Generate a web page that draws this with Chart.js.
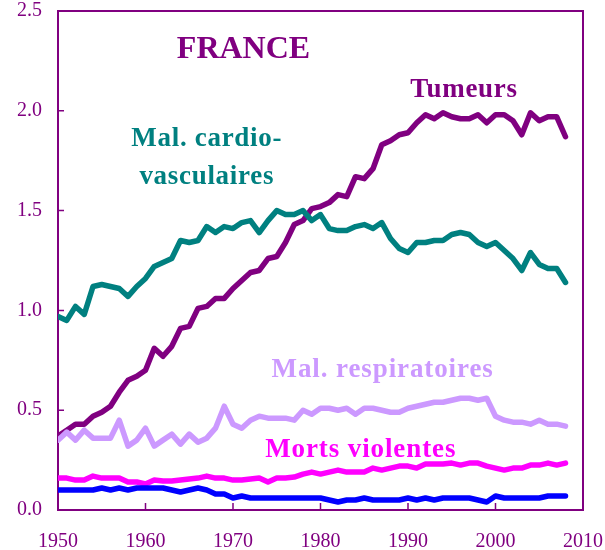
<!DOCTYPE html>
<html>
<head>
<meta charset="utf-8">
<title>France</title>
<script src="https://cdn.jsdelivr.net/npm/chart.js@4.4.1/dist/chart.umd.min.js"></script>
<style>
  html, body { margin: 0; padding: 0; background: #fff; }
  #wrap { width: 605px; height: 550px; }
</style>
</head>
<body>
<div id="wrap"><canvas id="myChart" width="605" height="550"></canvas></div>
<script>
var years = [1950, 1951, 1952, 1953, 1954, 1955, 1956, 1957, 1958, 1959,
    1960, 1961, 1962, 1963, 1964, 1965, 1966, 1967, 1968, 1969,
    1970, 1971, 1972, 1973, 1974, 1975, 1976, 1977, 1978, 1979,
    1980, 1981, 1982, 1983, 1984, 1985, 1986, 1987, 1988, 1989,
    1990, 1991, 1992, 1993, 1994, 1995, 1996, 1997, 1998, 1999,
    2000, 2001, 2002, 2003, 2004, 2005, 2006, 2007, 2008];

var tumeurs = [0.37, 0.40, 0.43, 0.43, 0.47, 0.49, 0.52, 0.59, 0.65, 0.67,
    0.70, 0.81, 0.77, 0.82, 0.91, 0.92, 1.01, 1.02, 1.06, 1.06,
    1.11, 1.15, 1.19, 1.20, 1.26, 1.27, 1.34, 1.43, 1.45, 1.51,
    1.52, 1.54, 1.58, 1.57, 1.67, 1.66, 1.71, 1.83, 1.85, 1.88,
    1.89, 1.94, 1.98, 1.96, 1.99, 1.97, 1.96, 1.96, 1.98, 1.94,
    1.98, 1.98, 1.95, 1.88, 1.99, 1.95, 1.97, 1.97, 1.87];

var cardio = [0.97, 0.95, 1.02, 0.98, 1.12, 1.13, 1.12, 1.11, 1.07, 1.12,
    1.16, 1.22, 1.24, 1.26, 1.35, 1.34, 1.35, 1.42, 1.39, 1.42,
    1.41, 1.44, 1.45, 1.39, 1.45, 1.50, 1.48, 1.48, 1.50, 1.45,
    1.48, 1.41, 1.40, 1.40, 1.42, 1.43, 1.41, 1.44, 1.36, 1.31,
    1.29, 1.34, 1.34, 1.35, 1.35, 1.38, 1.39, 1.38, 1.34, 1.32,
    1.34, 1.30, 1.26, 1.20, 1.29, 1.23, 1.21, 1.21, 1.14];

var respiratoires = [0.35, 0.39, 0.35, 0.40, 0.36, 0.36, 0.36, 0.45, 0.32, 0.35,
    0.41, 0.32, 0.35, 0.38, 0.33, 0.38, 0.34, 0.36, 0.41, 0.52,
    0.43, 0.41, 0.45, 0.47, 0.46, 0.46, 0.46, 0.45, 0.50, 0.48,
    0.51, 0.51, 0.50, 0.51, 0.48, 0.51, 0.51, 0.50, 0.49, 0.49,
    0.51, 0.52, 0.53, 0.54, 0.54, 0.55, 0.56, 0.56, 0.55, 0.56,
    0.47, 0.45, 0.44, 0.44, 0.43, 0.45, 0.43, 0.43, 0.42];

var mortsViolentes = [0.16, 0.16, 0.15, 0.15, 0.17, 0.16, 0.16, 0.16, 0.14, 0.14,
    0.13, 0.15, 0.145, 0.145, 0.15, 0.155, 0.16, 0.17, 0.16, 0.16,
    0.15, 0.15, 0.155, 0.16, 0.14, 0.16, 0.16, 0.165, 0.18, 0.19,
    0.18, 0.19, 0.20, 0.19, 0.19, 0.19, 0.21, 0.20, 0.21, 0.22,
    0.22, 0.21, 0.23, 0.23, 0.23, 0.235, 0.225, 0.235, 0.235, 0.22,
    0.21, 0.20, 0.21, 0.21, 0.225, 0.225, 0.235, 0.225, 0.235];

var autres = [0.10, 0.10, 0.10, 0.10, 0.10, 0.11, 0.10, 0.11, 0.10, 0.11,
    0.11, 0.11, 0.11, 0.10, 0.09, 0.10, 0.11, 0.10, 0.08, 0.08,
    0.06, 0.07, 0.06, 0.06, 0.06, 0.06, 0.06, 0.06, 0.06, 0.06,
    0.06, 0.05, 0.04, 0.05, 0.05, 0.06, 0.05, 0.05, 0.05, 0.05,
    0.06, 0.05, 0.06, 0.05, 0.06, 0.06, 0.06, 0.06, 0.05, 0.04,
    0.07, 0.06, 0.06, 0.06, 0.06, 0.06, 0.07, 0.07, 0.07];

var xTicks = [1950, 1960, 1970, 1980, 1990, 2000, 2010];
var yTicks = [0, 0.5, 1.0, 1.5, 2.0, 2.5];

var purple = '#800080';
var serif = '"Liberation Serif", "Times New Roman", serif';

// text labels placed in data coordinates: [text, year, value, colour, size, spacing]
var labels = [
    ['FRANCE', 1971.2, 2.265, purple, 32, 0],
    ['Tumeurs', 1996.4, 2.07, purple, 27, 0.7],
    ['Mal. cardio-', 1967.0, 1.824, '#008080', 27, 0.7],
    ['vasculaires', 1967.0, 1.633, '#008080', 27, 0.7],
    ['Mal. respiratoires', 1987.1, 0.666, '#CC99FF', 27, 0.9],
    ['Morts violentes', 1984.6, 0.266, '#FF00FF', 27, 0.9]
];

function toPoints(values) {
    return values.map(function (v, i) { return { x: years[i], y: v }; });
}

function line(data, color) {
    return {
        data: toPoints(data),
        borderColor: color,
        backgroundColor: color,
        borderWidth: 5.5,
        pointRadius: 0,
        tension: 0,
        borderJoinStyle: 'round',
        borderCapStyle: 'round'
    };
}

// frame, inward tick marks and the text labels
const decorations = {
    id: 'decorations',
    beforeDatasetsDraw(chart) {
        const ctx = chart.ctx;
        const area = chart.chartArea;
        const xs = chart.scales.x;
        const ys = chart.scales.y;
        ctx.save();
        ctx.strokeStyle = purple;
        ctx.lineWidth = 2;
        ctx.strokeRect(area.left, area.top, area.right - area.left, area.bottom - area.top);
        ctx.lineWidth = 1.5;
        ctx.beginPath();
        xTicks.forEach(function (t) {
            const px = xs.getPixelForValue(t);
            ctx.moveTo(px, area.bottom);
            ctx.lineTo(px, area.bottom - 7);
        });
        yTicks.forEach(function (t) {
            const py = ys.getPixelForValue(t);
            ctx.moveTo(area.left, py);
            ctx.lineTo(area.left + 6, py);
        });
        ctx.stroke();
        ctx.restore();
    },
    afterDatasetsDraw(chart) {
        const ctx = chart.ctx;
        const xs = chart.scales.x;
        const ys = chart.scales.y;
        ctx.save();
        ctx.textAlign = 'center';
        ctx.textBaseline = 'alphabetic';
        labels.forEach(function (l) {
            ctx.font = 'bold ' + l[4] + 'px ' + serif;
            ctx.letterSpacing = l[5] + 'px';
            ctx.fillStyle = l[3];
            ctx.fillText(l[0], xs.getPixelForValue(l[1]), ys.getPixelForValue(l[2]));
        });
        ctx.restore();
    }
};

const ctx = document.getElementById('myChart');
const myChart = new Chart(ctx, {
    type: 'line',
    data: {
        datasets: [
            line(autres, '#0000FF'),
            line(mortsViolentes, '#FF00FF'),
            line(respiratoires, '#CC99FF'),
            line(cardio, '#008080'),
            line(tumeurs, purple)
        ]
    },
    options: {
        responsive: false,
        animation: false,
        layout: { padding: { top: 11, right: 22, left: 0, bottom: 0 } },
        plugins: {
            legend: { display: false },
            tooltip: { enabled: false }
        },
        scales: {
            x: {
                type: 'linear',
                min: 1950,
                max: 2010,
                afterFit: function (scale) {
                    scale.height = 40;
                    scale.paddingLeft = 0;
                    scale.paddingRight = 0;
                },
                afterBuildTicks: function (scale) {
                    scale.ticks = xTicks.map(function (v) { return { value: v }; });
                },
                grid: { display: false, drawTicks: false },
                border: { display: false },
                ticks: {
                    color: purple,
                    padding: 20,
                    maxRotation: 0,
                    autoSkip: false,
                    font: { family: serif, size: 20 },
                    callback: function (v) { return String(v); }
                }
            },
            y: {
                min: 0,
                max: 2.5,
                afterFit: function (scale) {
                    scale.width = 58;
                    scale.paddingTop = 0;
                    scale.paddingBottom = 0;
                },
                afterBuildTicks: function (scale) {
                    scale.ticks = yTicks.map(function (v) { return { value: v }; });
                },
                grid: { display: false, drawTicks: false },
                border: { display: false },
                ticks: {
                    color: purple,
                    padding: 16,
                    font: { family: serif, size: 20 },
                    callback: function (v) { return v.toFixed(1); }
                }
            }
        }
    },
    plugins: [decorations]
});
</script>
</body>
</html>
